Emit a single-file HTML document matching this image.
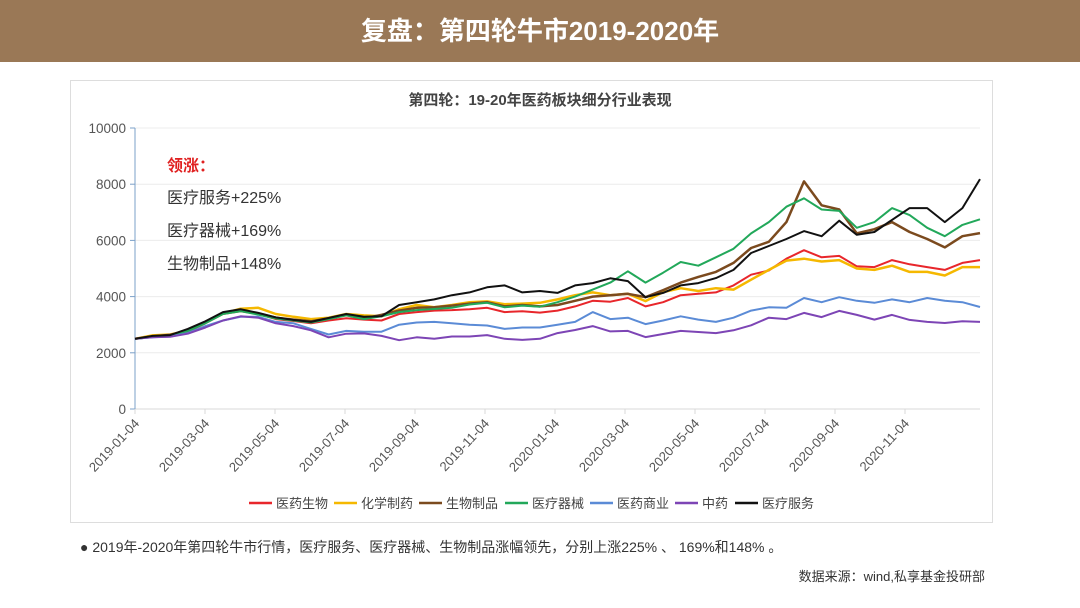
<!DOCTYPE html>
<html><head><meta charset="utf-8">
<style>
body{margin:0;width:1080px;height:608px;background:#fff;font-family:"Liberation Sans","Noto Sans CJK SC",sans-serif;overflow:hidden;position:relative}
#hdr{position:absolute;left:0;top:0;width:1080px;height:62px;background:#9a7856;color:#fff;font-size:26px;font-weight:bold;text-align:center;line-height:62px}
#box{position:absolute;left:70px;top:80px;width:921px;height:441px;border:1px solid #ddd}
.note{position:absolute;font-size:16px;color:#333}
</style></head><body>
<div id="hdr">复盘：第四轮牛市2019-2020年</div>
<div id="box"></div>
<svg id="chart" width="1080" height="608" style="position:absolute;left:0;top:0"></svg>
<div class="note" style="left:167px;top:152px;color:#e02020;font-weight:bold">领涨：</div>
<div class="note" style="left:167px;top:184px">医疗服务+225%</div>
<div class="note" style="left:167px;top:217px">医疗器械+169%</div>
<div class="note" style="left:167px;top:250px">生物制品+148%</div>
<div style="position:absolute;left:80px;top:537px;font-size:14px;color:#333">● 2019年-2020年第四轮牛市行情，医疗服务、医疗器械、生物制品涨幅领先，分别上涨225% 、 169%和148% 。</div>
<div style="position:absolute;right:95px;top:566px;font-size:13px;color:#333">数据来源：wind,私享基金投研部</div>
<script>
const xTickLabels=["2019-01-04","2019-03-04","2019-05-04","2019-07-04","2019-09-04","2019-11-04","2020-01-04","2020-03-04","2020-05-04","2020-07-04","2020-09-04","2020-11-04"];
const yTicks=[0,2000,4000,6000,8000,10000];
const seriesNames=["医药生物","化学制药","生物制品","医疗器械","医药商业","中药","医疗服务"];
const seriesColors=["#e8262b","#f5b800","#7b4a1e","#22a85a","#5b8bd6","#7d45b5","#111111"];
const medBio=[2500,2580,2600,2750,3050,3380,3480,3380,3200,3130,3050,3150,3230,3180,3150,3380,3450,3500,3520,3550,3600,3450,3480,3430,3500,3650,3850,3820,3950,3650,3800,4050,4100,4150,4400,4780,4930,5350,5650,5400,5450,5080,5050,5300,5150,5050,4950,5200,5300];
const chemPharma=[2500,2620,2650,2790,3100,3400,3570,3600,3380,3280,3200,3250,3380,3330,3300,3550,3700,3620,3700,3800,3830,3730,3750,3780,3900,4050,4150,4050,4100,3840,4160,4300,4200,4300,4250,4600,4950,5280,5350,5250,5300,5000,4950,5100,4880,4880,4750,5050,5050];
const biologics=[2500,2580,2640,2780,3080,3420,3520,3400,3250,3180,3120,3230,3350,3220,3350,3500,3600,3620,3680,3750,3800,3650,3700,3650,3700,3850,4000,4050,4100,3980,4230,4500,4700,4880,5200,5730,5950,6650,8100,7250,7100,6250,6400,6650,6300,6050,5750,6150,6260];
const devices=[2500,2560,2620,2780,3050,3380,3480,3360,3220,3150,3080,3200,3330,3200,3300,3450,3520,3560,3600,3720,3780,3620,3680,3640,3800,4000,4250,4500,4900,4500,4850,5230,5100,5400,5700,6250,6650,7200,7500,7100,7050,6450,6650,7150,6900,6450,6150,6550,6750];
const distribution=[2500,2550,2580,2700,2950,3150,3280,3280,3100,3050,2850,2650,2780,2750,2750,3000,3080,3100,3050,3000,2970,2850,2900,2900,3000,3100,3450,3200,3250,3020,3150,3300,3180,3100,3250,3500,3620,3600,3950,3800,3980,3850,3780,3900,3800,3950,3850,3800,3630];
const tcm=[2500,2550,2570,2680,2900,3150,3300,3250,3050,2950,2800,2550,2680,2690,2600,2450,2550,2500,2580,2580,2630,2500,2460,2500,2700,2810,2950,2760,2780,2560,2670,2780,2740,2700,2800,2980,3250,3200,3420,3270,3490,3350,3180,3350,3170,3100,3060,3120,3100];
const services=[2500,2600,2630,2850,3120,3450,3550,3420,3260,3170,3100,3240,3380,3280,3300,3700,3800,3900,4050,4150,4330,4400,4150,4200,4130,4400,4480,4650,4550,3980,4130,4400,4480,4660,4950,5550,5800,6050,6330,6150,6700,6200,6300,6730,7150,7150,6650,7150,8180];
const allSeries=[medBio,chemPharma,biologics,devices,distribution,tcm,services];

const NS="http://www.w3.org/2000/svg";
const svg=document.getElementById('chart');
const X0=135,X1=980,Y0=409,Y1=128;
const xPt=i=>X0+(X1-X0)*i/(medBio.length-1);
const xTick=i=>X0+i*70;
const yv=v=>Y0-(Y0-Y1)*v/10000;
function mk(tag,attrs){const e=document.createElementNS(NS,tag);for(const k in attrs)e.setAttribute(k,attrs[k]);svg.appendChild(e);return e;}
let t=mk('text',{x:540,y:105,'text-anchor':'middle','font-size':15,'font-weight':'bold',fill:'#444'});


t.textContent='第四轮：19-20年医药板块细分行业表现';
yTicks.forEach(v=>{
  const g=mk('line',{x1:X0,x2:X1,y1:yv(v),y2:yv(v),stroke:v===0?'#d8d8d8':'#ececec'});
  
  
  mk('line',{x1:X0-5,x2:X0,y1:yv(v),y2:yv(v),stroke:'#7ba0c8'});
  const l=mk('text',{x:X0-9,y:yv(v)+5,'text-anchor':'end','font-size':13.5,fill:'#555'});
  
  
  l.textContent=v;
});
const ax=mk('line',{x1:X0,x2:X0,y1:Y1,y2:Y0,stroke:'#7ba0c8'});


xTickLabels.forEach((s,i)=>{
  const x=xTick(i);
  mk('line',{x1:x,x2:x,y1:Y0,y2:Y0+5,stroke:'#d8d8d8'});
  const l=mk('text',{x:x+5,y:Y0+15,'text-anchor':'end','font-size':13,fill:'#555',transform:`rotate(-47 ${x+5} ${Y0+15})`});
  
  
  l.textContent=s;
});
allSeries.forEach((arr,si)=>{
  const p=mk('polyline',{points:arr.map((v,i)=>xPt(i).toFixed(1)+','+yv(v).toFixed(1)).join(' '),fill:'none',stroke:seriesColors[si],'stroke-width':(si===2||si===1)?2.5:2,'stroke-linejoin':'round'});
  
  
});
const legX=[249,334,419,505,590,675,735];
seriesNames.forEach((n,i)=>{
  const x=legX[i];
  mk('line',{x1:x,x2:x+23,y1:503,y2:503,stroke:seriesColors[i],'stroke-width':2.5});
  const l=mk('text',{x:x+27,y:508,'font-size':13,fill:'#444'});
  
  
  l.textContent=n;
});
</script>
</body></html>
